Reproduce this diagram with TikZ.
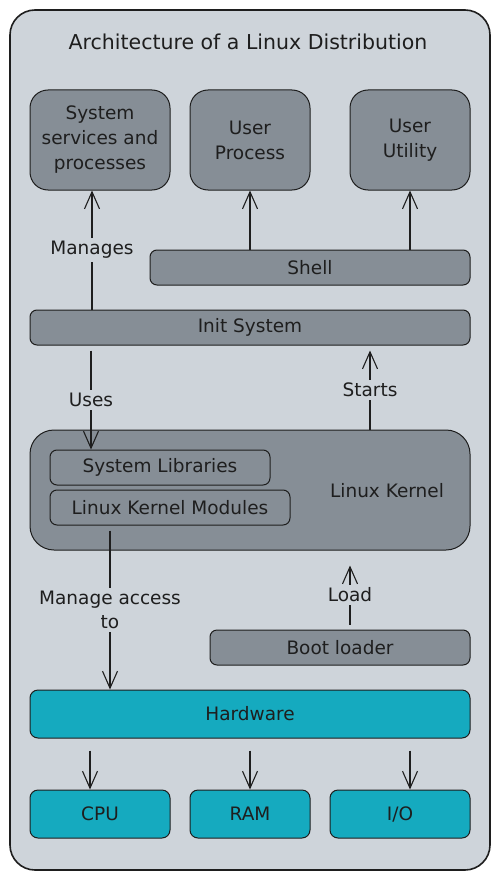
\documentclass[tikz,border=0pt]{standalone}
\usepackage{fontspec}
\setmainfont{DejaVu Sans}
\usetikzlibrary{arrows.meta}
\definecolor{panel}{HTML}{CED4DA}
\definecolor{slab}{HTML}{868E96}
\definecolor{hwcyan}{HTML}{15AABF}
\definecolor{ink}{HTML}{1E1E1E}
\begin{document}
\begin{tikzpicture} [x=1pt, y=-1pt,
every node/.style = {shape=rectangle, align=center, text=ink, inner sep=0pt,
font=\fontsize{18.5}{25}\selectfont},
box/.style = {draw=ink, line width=1pt, fill=slab, rounded corners=7pt},
bigbox/.style = {box, rounded corners=18pt},
hwbox/.style = {draw=ink, line width=1pt, fill=hwcyan, rounded corners=8pt},
lbl/.style = {fill=panel, inner sep=3pt},
arr/.style = {draw=ink, line width=1.1pt, -{Straight Barb[length=17pt,width=15pt]}}]
\useasboundingbox (0,0) rectangle (500,880);
\fill[white] (0,0) rectangle (500,880);
\draw[draw=ink, line width=1.6pt, fill=panel, rounded corners=25pt] (10,10) rectangle (490,870);
\node (title) [font=\fontsize{20.5}{24}\selectfont] at (248,42) {Architecture of a Linux Distribution};

\node (sys)[bigbox, minimum width=140pt, minimum height=100pt] at (100,140) {System\\services and\\processes};
\node (uproc)[bigbox, minimum width=120pt, minimum height=100pt] at (250,140) {User\\Process};
\node (uutil)[bigbox, minimum width=120pt, minimum height=100pt] at (410,140) {User\\Utility};
\node (shell)[box, minimum width=320pt, minimum height=35pt] at (310,267.5) {Shell};
\node (init)[box, minimum width=440pt, minimum height=35pt] at (250,327.5) {Init System};
\node (kernel)[box, rounded corners=24pt, minimum width=440pt, minimum height=120pt] at (250,490) {};
\node (kname) at (387,491) {Linux Kernel};
\node (syslib)[box, minimum width=220pt, minimum height=35pt] at (160,467.5) {System Libraries};
\node (mods)[box, minimum width=240pt, minimum height=35pt] at (170,507.5) {Linux Kernel Modules};
\node (boot)[box, minimum width=260pt, minimum height=35pt] at (340,647.5) {Boot loader};
\node (hw)[hwbox, minimum width=440pt, minimum height=48pt] at (250,714) {Hardware};
\node (cpu)[hwbox, minimum width=140pt, minimum height=48pt] at (100,814) {CPU};
\node (ram)[hwbox, minimum width=120pt, minimum height=48pt] at (250,814) {RAM};
\node (io)[hwbox, minimum width=140pt, minimum height=48pt] at (400,814) {I/O};

\draw[arr] ([xshift=-8pt]sys.south |- init.north) -- node[lbl]{Manages} ([xshift=-8pt]sys.south);
\draw[arr] (uproc.south |- shell.north) -- (uproc.south);
\draw[arr] (uutil.south |- shell.north) -- (uutil.south);
\draw[arr] ([xshift=-9pt,yshift=-5pt]sys.south |- init.south) -- node[lbl]{Uses} ([xshift=-9pt]sys.south |- syslib.north);
\draw[arr] ([xshift=370pt]kernel.north -| 0,0) -- node[lbl]{Starts} ([xshift=370pt,yshift=-5pt]init.south -| 0,0);
\draw[arr] ([yshift=-5pt]mods.south -| 110,0) -- node[lbl, font=\fontsize{18.5}{24}\selectfont]{Manage access\\to} (hw.north -| 110,0);
\draw[arr] ([yshift=5pt]boot.north -| 350,0) -- node[lbl]{Load} ([yshift=-15pt]kernel.south -| 350,0);
\draw[arr] ([yshift=-12pt]hw.south -| cpu.north) ++(-10,0) -- ([xshift=-10pt]cpu.north);
\draw[arr] ([yshift=-12pt]hw.south -| ram.north) -- (ram.north);
\draw[arr] ([yshift=-12pt]hw.south -| io.north) ++(10,0) -- ([xshift=10pt]io.north);
\end{tikzpicture}
\end{document}
